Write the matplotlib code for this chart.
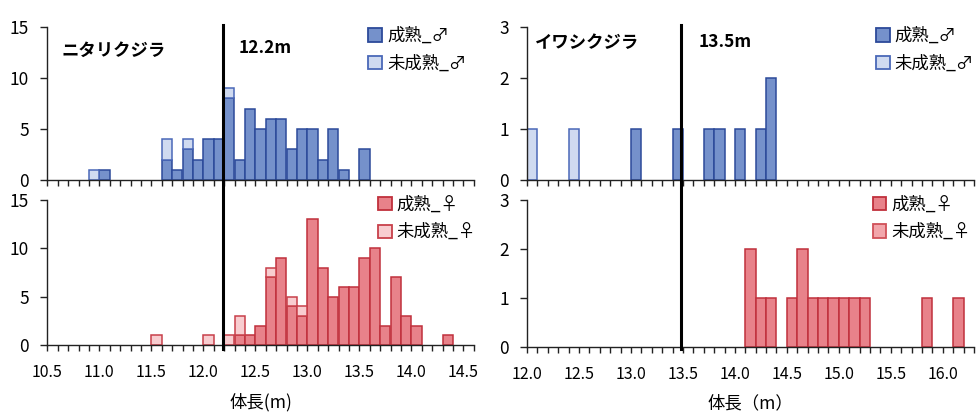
import matplotlib.pyplot as plt
import matplotlib.transforms as mtransforms
from matplotlib.ticker import MultipleLocator
import numpy as np

plt.rcParams['font.family'] = ['Noto Sans CJK JP', 'DejaVu Sans']

# ニタリクジラ : bin left edge (0.1 m bins) and counts
bryde_male_bins = [10.9, 11.0, 11.6, 11.7, 11.8, 11.9, 12.0, 12.1, 12.2, 12.3, 12.4,
                   12.5, 12.6, 12.7, 12.8, 12.9, 13.0, 13.1, 13.2, 13.3, 13.5]
bryde_male_mature = [0, 1, 2, 1, 3, 2, 4, 4, 8, 2, 7, 5, 6, 6, 3, 5, 5, 2, 5, 1, 3]
bryde_male_immature = [1, 0, 2, 0, 1, 0, 0, 0, 1, 0, 0, 0, 0, 0, 0, 0, 0, 0, 0, 0, 0]

bryde_female_bins = [11.5, 12.0, 12.2, 12.3, 12.4, 12.5, 12.6, 12.7, 12.8, 12.9, 13.0,
                     13.1, 13.2, 13.3, 13.4, 13.5, 13.6, 13.7, 13.8, 13.9, 14.0, 14.3]
bryde_female_mature = [0, 0, 0, 1, 1, 2, 7, 9, 4, 3, 13, 8, 5, 6, 6, 9, 10, 2, 7, 3, 2, 1]
bryde_female_immature = [1, 1, 1, 2, 0, 0, 1, 0, 1, 1, 0, 0, 0, 0, 0, 0, 0, 0, 0, 0, 0, 0]

# イワシクジラ
sei_male_bins = [12.0, 12.4, 13.0, 13.4, 13.7, 13.8, 14.0, 14.2, 14.3]
sei_male_mature = [0, 0, 1, 1, 1, 1, 1, 1, 2]
sei_male_immature = [1, 1, 0, 0, 0, 0, 0, 0, 0]

sei_female_bins = [14.1, 14.2, 14.3, 14.5, 14.6, 14.7, 14.8, 14.9, 15.0, 15.1, 15.2, 15.8, 16.1]
sei_female_mature = [2, 1, 1, 1, 2, 1, 1, 1, 1, 1, 1, 1, 1]
sei_female_immature = [0, 0, 0, 0, 0, 0, 0, 0, 0, 0, 0, 0, 0]

bryde_maturity = 12.2
sei_maturity = 13.5

BIN = 0.1
W, H = 978, 412

male_colors = {'mature': ('#7591cb', '#2c4a9a'), 'immature': ('#cfdaf0', '#4a68b8')}
female_colors = {'mature': ('#e8828a', '#c0303c'), 'immature': ('#f8cdd0', '#c8404a')}
female_colors_r = {'mature': ('#e8828a', '#c0303c'), 'immature': ('#f2a6ab', '#d05058')}


def px_axes(fig, left, right, top, bottom):
    return fig.add_axes([left / W, (H - bottom) / H, (right - left) / W, (bottom - top) / H])


def draw_hist(ax, bins, mature, immature, colors, labels):
    bins = np.array(bins)
    mature = np.array(mature)
    immature = np.array(immature)
    m = mature > 0
    ax.bar(bins[m], mature[m], width=BIN, align='edge', color=colors['mature'][0],
           edgecolor=colors['mature'][1], linewidth=1.1, zorder=2)
    i = immature > 0
    ax.bar(bins[i], immature[i], bottom=mature[i], width=BIN, align='edge',
           color=colors['immature'][0], edgecolor=colors['immature'][1], linewidth=1.1, zorder=2)
    # legend handles
    h1 = plt.Rectangle((0, 0), 1, 1, facecolor=colors['mature'][0], edgecolor=colors['mature'][1], linewidth=1.3)
    h2 = plt.Rectangle((0, 0), 1, 1, facecolor=colors['immature'][0], edgecolor=colors['immature'][1], linewidth=1.3)
    return [h1, h2], labels


def style_axes(ax, xmin, xmax, ymax, ystep, show_xlabels):
    ax.set_ylim(0, ymax)
    ax.spines['top'].set_visible(False)
    ax.spines['right'].set_visible(False)
    for s in ('left', 'bottom'):
        ax.spines[s].set_linewidth(1.0)
        ax.spines[s].set_color('#222222')
    ax.xaxis.set_major_locator(MultipleLocator(0.5))
    ax.xaxis.set_minor_locator(MultipleLocator(0.1))
    ax.yaxis.set_major_locator(MultipleLocator(ystep))
    ax.tick_params(axis='x', which='both', direction='out', length=4, width=1.0,
                   color='#222222', labelsize=11.5, pad=10, labelbottom=show_xlabels)
    ax.tick_params(axis='y', which='major', direction='out', length=5, width=1.0,
                   color='#222222', labelsize=12.5, pad=8)
    if show_xlabels:
        ticks = np.arange(xmin, xmax + 0.001, 0.5)
        ax.set_xticks(ticks)
        ax.set_xticklabels(['%.1f' % v for v in ticks])
    ax.set_xlim(xmin, xmax)


fig = plt.figure(figsize=(W / 100, H / 100), dpi=100)

ax1 = px_axes(fig, 47.3, 473.7, 27, 180)
ax2 = px_axes(fig, 47.3, 473.7, 200, 345)
ax3 = px_axes(fig, 527, 974, 27, 180)
ax4 = px_axes(fig, 527, 974, 200, 347)

panels = [
    (ax1, bryde_male_bins, bryde_male_mature, bryde_male_immature, male_colors,
     ['成熟_♂', '未成熟_♂'], (0.752, 1.0)),
    (ax2, bryde_female_bins, bryde_female_mature, bryde_female_immature, female_colors,
     ['成熟_♀', '未成熟_♀'], (0.775, 1.03)),
    (ax3, sei_male_bins, sei_male_mature, sei_male_immature, male_colors,
     ['成熟_♂', '未成熟_♂'], (0.78, 1.0)),
    (ax4, sei_female_bins, sei_female_mature, sei_female_immature, female_colors_r,
     ['成熟_♀', '未成熟_♀'], (0.773, 1.03)),
]
for ax, bins, mat, imm, cols, labs, anchor in panels:
    handles, labels = draw_hist(ax, bins, mat, imm, cols, labs)
    ax.legend(handles, labels, loc='upper left', bbox_to_anchor=anchor, frameon=False,
              fontsize=12.5, handlelength=0.8, handleheight=0.8, handletextpad=0.3,
              labelspacing=0.55, borderpad=0, borderaxespad=0)

style_axes(ax1, 10.5, 14.6, 15, 5, False)
style_axes(ax2, 10.5, 14.6, 15, 5, True)
style_axes(ax3, 12.0, 16.3, 3, 1, False)
style_axes(ax4, 12.0, 16.3, 3, 1, True)

ax2.set_xlabel('体長(m)', fontsize=12.5, labelpad=8)
ax4.set_xlabel('体長（m）', fontsize=12.5, labelpad=8)

# maturity length lines across both panels
for ax, xval in ((ax1, bryde_maturity), (ax3, sei_maturity)):
    tr = mtransforms.blended_transform_factory(ax.transData, fig.transFigure)
    fig.add_artist(plt.Line2D([xval - 0.015, xval - 0.015], [(H - 25) / H, (H - 349) / H],
                              transform=tr, color='black', linewidth=2.2, zorder=5))

ax1.text(10.64, 12.7, 'ニタリクジラ', fontsize=12.5, fontweight='bold', va='center', ha='left')
ax1.text(12.34, 12.9, '%.1fm' % bryde_maturity, fontsize=12.5, fontweight='bold', va='center', ha='left')
ax3.text(12.08, 2.68, 'イワシクジラ', fontsize=12.5, fontweight='bold', va='center', ha='left')
ax3.text(13.65, 2.7, '%.1fm' % sei_maturity, fontsize=12.5, fontweight='bold', va='center', ha='left')

fig.savefig('out.png', dpi=100)
